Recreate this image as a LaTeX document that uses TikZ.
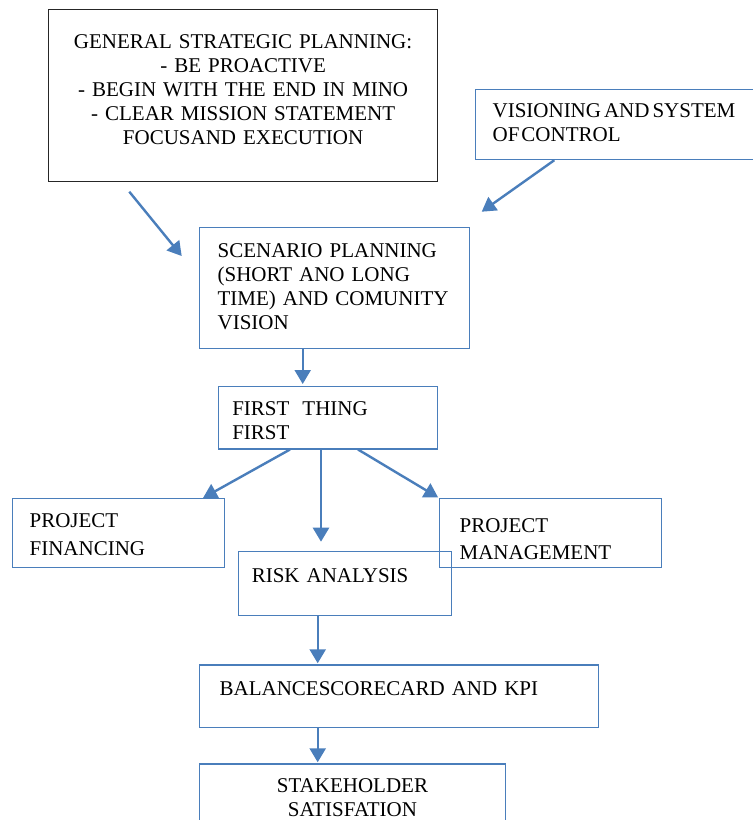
\documentclass[tikz,border=0pt]{standalone}
\usepackage{fontspec}
\setmainfont{Liberation Serif}
\usetikzlibrary{arrows.meta,positioning,calc}
\definecolor{wordblue}{RGB}{74,126,187}

\tikzset{
  blubox/.style={draw=wordblue, line width=1.2pt, rectangle, anchor=north west,
    align=left, inner ysep=0pt, text height=14pt, font=\fontsize{21}{24}\selectfont},
  blkbox/.style={blubox, draw=black!85, align=center},
  arr/.style={draw=wordblue, line width=2.4pt, -{Triangle[length=14pt,width=16pt]}}
}

\begin{document}
\begin{tikzpicture}[x=1pt,y=-1pt]
            \clip (0,0) rectangle (753,820);
            % boxes
            \node[blkbox, minimum width=389pt, minimum height=172pt, inner xsep=10pt,
              text width=369pt, text depth=108pt] (gsp) at (48,9)
              {GENERAL STRATEGIC PLANNING:\\ - BE PROACTIVE\\ - BEGIN WITH THE END IN MINO\\ - CLEAR MISSION STATEMENT\\ FOCUSAND EXECUTION};
            \node[blubox, minimum width=290pt, minimum height=70pt, inner xsep=17pt,
              text width=256pt, text depth=27.4pt] (vis) at (475,89)
              {VISIONING\kern3pt AND\kern3pt SYSTEM\\ OF\kern2pt CONTROL};
            \node[blubox, minimum width=270pt, minimum height=121pt, inner xsep=18pt,
              text width=234pt, text depth=73.8pt] (scen) at (199,226.7)
              {SCENARIO PLANNING\\ (SHORT ANO LONG\\ TIME) AND COMUNITY\\ VISION};
            \node[blubox, minimum width=219pt, minimum height=62.3pt, inner xsep=14pt,
              text width=191pt, text depth=19pt] (first) at (217.7,386)
              {FIRST\kern13pt THING\\ FIRST};
            \node[blubox, minimum width=212pt, minimum height=69pt, inner xsep=17pt,
              text width=178pt, text depth=25.6pt, font=\fontsize{21}{28}\selectfont] (pf) at (12,498)
              {PROJECT\\ FINANCING};
            \node[blubox, minimum width=222pt, minimum height=69pt, inner xsep=20pt,
              text width=182pt, text depth=15.6pt, font=\fontsize{21}{27}\selectfont] (pm) at (439,498)
              {PROJECT\\ MANAGEMENT};
            \node[blubox, minimum width=213pt, minimum height=64pt, inner xsep=13.5pt,
              text width=186pt, text depth=16pt] (risk) at (237.7,550.7)
              {RISK ANALYSIS};
            \node[blubox, minimum width=399pt, minimum height=62.4pt, inner xsep=20pt,
              text width=359pt, text depth=15.6pt] (bal) at (199,664.3)
              {BALANCESCORECARD AND KPI};
            \node[blubox, align=center, minimum width=305.7pt, minimum height=80pt, inner xsep=10pt,
              text width=285.7pt, text depth=36pt] (stake) at (199,763.3)
              {STAKEHOLDER\\ SATISFATION};
            % free arrow ends
            \coordinate (gspout) at (129.3,191.7);
            \coordinate (scenin) at (181.7,256);
            \coordinate (visin) at (481.7,211.7);
            % arrows
            \draw[arr] (gspout) -- (scenin);
            \draw[arr] (554.3,0 |- vis.south) -- (visin);
            \draw[arr, shorten >=2pt] (302.7,0 |- scen.south) -- (302.7,0 |- first.north);
            \draw[arr] (290,0 |- first.south) -- (203,0 |- pf.north);
            \draw[arr, shorten >=9pt] (321,0 |- first.south) -- (321,0 |- risk.north);
            \draw[arr, shorten >=1pt] (358,0 |- first.south) -- (pm.north west);
            \draw[arr, shorten >=1pt] (317.7,0 |- risk.south) -- (317.7,0 |- bal.north);
            \draw[arr, shorten >=1pt] (317.7,0 |- bal.south) -- (317.7,0 |- stake.north);
        \end{tikzpicture}
\end{document}
